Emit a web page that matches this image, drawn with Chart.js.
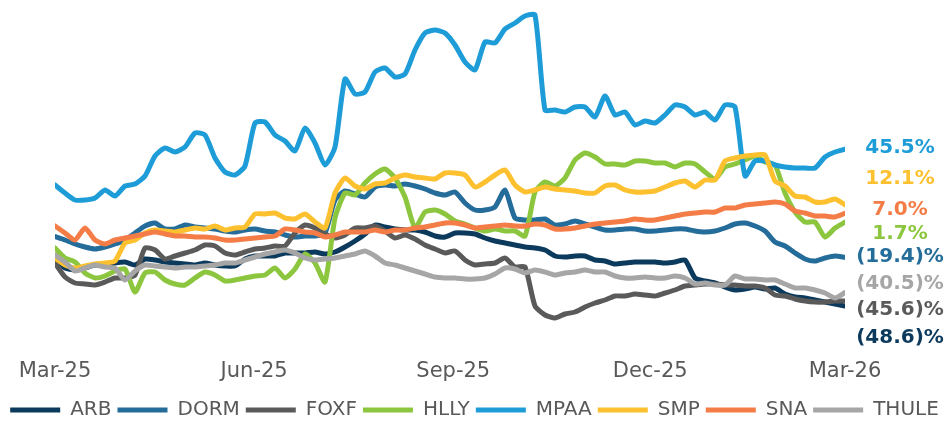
<!DOCTYPE html>
<html>
<head>
<meta charset="utf-8">
<script src="https://cdn.jsdelivr.net/npm/chart.js@4.4.0/dist/chart.umd.min.js"></script>
<style>
  body { margin: 0; background: #fff; }
  #wrap { width: 949px; height: 422px; position: relative; }
</style>
</head>
<body>
<div id="wrap"><canvas id="perfChart"></canvas></div>
<script>
// Relative performance (%), sampled roughly every 4.6 days from Mar-25 to Mar-26
const tickDays = [0, 92, 184, 275, 365];
const tickLabels = ['Mar-25', 'Jun-25', 'Sep-25', 'Dec-25', 'Mar-26'];
const seriesNames = ['ARB', 'DORM', 'FOXF', 'HLLY', 'MPAA', 'SMP', 'SNA', 'THULE'];

const arb = [
  -21, -25.8, -27, -25.8, -24, -24, -22.8, -22.2, -24, -20.4,
  -21, -22.2, -22.8, -23.4, -24, -22.8, -24, -24.6, -24.6, -20.4,
  -18.6, -18.6, -18.6, -16.8, -16.8, -16.8, -16.2, -17.4, -16.2, -13.2,
  -9.6, -5.4, 0, -1.2, -2.4, -3, -3, -4.2, -6.6, -7.2,
  -4.8, -4.8, -5.4, -7.8, -9.6, -10.8, -12, -13.2, -13.8, -15,
  -18.6, -19.2, -18.6, -18.6, -21, -21.6, -23.4, -22.8, -22.2, -22.2,
  -22.2, -22.8, -22.2, -21, -31.8, -33.6, -34.8, -37.2, -39, -38.4,
  -37.2, -38.4, -37.8, -41.4, -43.2, -43.8, -45, -46.2, -47.4, -48.6
];
const dorm = [
  -7, -9, -11.4, -13.2, -14.4, -13.2, -11.4, -9, -4.8, -0.6,
  1.2, -2.4, -2.4, 0, -1.2, -1.8, -2.4, -3.6, -4.2, -3,
  -2.4, -3.6, -4.2, -6, -7.2, -6.6, -6.6, -4.8, 15, 20.4,
  18.6, 16.8, 22.8, 24, 23.4, 24.6, 23.4, 21.6, 19.2, 18,
  19.8, 13.2, 9, 9, 10.8, 21, 4.2, 3, 3, 3.6,
  0, 0.6, 2.4, 0.6, -1.2, -3, -3, -2.4, -2.4, -3.6,
  -3.6, -3, -2.4, -2.4, -3.6, -4.2, -3.6, -1.8, 0.6, 1.2,
  -0.6, -3.6, -10.2, -12.6, -16.8, -20.4, -21.6, -19.8, -18.6, -19.4
];
const foxf = [
  -22.8, -31.2, -34.8, -35.4, -36, -34.2, -31.8, -31.8, -30, -13.8,
  -15, -20.4, -18.6, -16.8, -15, -12, -12.6, -16.8, -18, -16.2,
  -14.4, -13.8, -12.6, -12.6, -4.8, 0, -1.8, -5.4, -7.8, -6,
  -1.8, -1.8, -0.6, -3.6, -7.8, -6, -8.4, -12, -14.4, -16.8,
  -15.6, -21, -24, -23.4, -22.8, -19.8, -25.2, -25.2, -48.6, -54,
  -55.8, -53.4, -52.2, -49.2, -46.8, -45, -42.6, -42.6, -41.4, -42,
  -42.6, -40.8, -39, -36.6, -36, -35.4, -35.4, -36, -36, -36.6,
  -36.6, -37.8, -42, -42.6, -44.4, -45.6, -46.2, -46.2, -45.6, -45.6
];
const hlly = [
  -13.8, -19.8, -22.2, -28.8, -31.8, -30.6, -27.6, -26.4, -40.2, -28.8,
  -28.2, -33, -35.4, -36, -31.8, -28.2, -30, -33.6, -33, -31.8,
  -30.6, -30, -25.8, -31.8, -26.4, -17.4, -22.8, -34.2, 4.2, 19.2,
  18, 25.2, 30.6, 33.6, 28.2, 16.8, -1.8, 7.8, 9, 6.6,
  2.4, 0.6, -1.8, -3.6, -2.4, -3.6, -3.6, -6.6, 19.8, 25.8,
  23.4, 28.2, 39, 43.2, 40.8, 36.6, 36.6, 36, 38.4, 38.4,
  37.2, 37.2, 34.8, 37.2, 36.6, 31.8, 27.6, 34.8, 36.6, 39,
  41.4, 37.8, 36, 19.2, 7.8, 1.8, 1.8, -7.2, -1.8, 1.7
];
const mpaa = [
  24, 19.2, 15, 15, 16.2, 21, 17.4, 23.4, 24.6, 29.4,
  41.4, 46.2, 43.8, 46.8, 55.2, 54, 40.2, 31.8, 30, 35.4,
  61.2, 61.8, 54, 50.4, 44.4, 58.2, 49.2, 36, 46.8, 87.6,
  78.6, 79.8, 91.8, 94.2, 88.8, 90.6, 105, 115.2, 117, 115.2,
  108, 97.8, 93, 109.8, 109.2, 117.6, 121.2, 125.4, 126, 69,
  69, 67.8, 70.8, 70.8, 64.8, 77.4, 66, 67.8, 60, 62.4,
  61.2, 66, 72, 70.8, 66, 67.8, 63, 72, 70.8, 29.4,
  38.4, 38.4, 36, 34.8, 34.2, 34.2, 34.2, 40.8, 43.8, 45.5
];
const smp = [
  -19.8, -24, -25.8, -24.6, -23.4, -22.8, -21.6, -10.8, -9, -4.8,
  -3, -3.6, -4.2, -3, -1.8, -2.4, -0.6, -3, -1.8, -1.2,
  6.6, 6.6, 7.2, 4.2, 3.6, 6.6, 1.8, -1.8, 19.2, 28.2,
  23.4, 21.6, 24.6, 25.2, 28.2, 30, 28.8, 28.2, 27.6, 31.2,
  31.2, 30, 22.8, 25.8, 30, 33, 24, 19.8, 21, 22.8,
  21.6, 21, 20.4, 19.2, 19.2, 23.4, 24, 21, 19.8, 19.8,
  20.4, 22.8, 25.2, 26.4, 22.8, 27, 27, 38.4, 40.2, 41.4,
  42, 42, 26.4, 23.4, 17.4, 16.8, 13.8, 13.8, 15.6, 12.1
];
const sna = [
  -0.6, -4.8, -9, -1.8, -9, -11.4, -9, -7.8, -6.6, -5.4,
  -4.2, -5.4, -6.6, -6.6, -7.2, -7.2, -7.8, -9, -9, -8.4,
  -7.8, -7.2, -6.6, -2.4, -3, -4.2, -4.8, -7.2, -6, -4.2,
  -4.2, -4.2, -3, -4.2, -3, -3, -1.8, -1.2, 0, 1.2,
  1.2, 0, -1.8, -1.2, -0.6, 0, -0.6, -0.6, 0.6, 0,
  -2.4, -2.4, -1.8, -0.6, 0.6, 1.2, 1.8, 2.4, 3.6, 3,
  3, 4.2, 5.4, 6.6, 7.2, 7.8, 7.8, 10.2, 10.2, 12,
  12.6, 13.2, 13.8, 12.6, 8.4, 7.2, 5.4, 5.4, 4.8, 7.0
];
const thule = [
  -18, -22.2, -27.6, -25.8, -24, -25.2, -25.8, -33, -27.6, -24,
  -24.6, -25.2, -25.8, -25.2, -25.2, -24.6, -24, -22.8, -22.8, -21,
  -19.2, -17.4, -16.2, -15, -16.8, -19.8, -21, -20.4, -19.8, -18.6,
  -17.4, -15.6, -18.6, -22.8, -24, -25.8, -27.6, -29.4, -31.2, -31.8,
  -31.8, -32.4, -32.4, -31.8, -29.4, -25.8, -26.4, -28.8, -27, -28.2,
  -30, -28.8, -28.2, -27, -28.2, -28.2, -30.6, -31.8, -31.8, -31.2,
  -31.8, -31.8, -30.6, -31.8, -35.4, -34.8, -36, -36, -30.6, -32.4,
  -32.4, -33, -33, -35.4, -37.8, -37.8, -39, -40.8, -43.8, -40.5
];

const seriesValues = [arb, dorm, foxf, hlly, mpaa, smp, sna, thule];
const seriesColors = ['#0c3a5d', '#246c9a', '#5a5a5a', '#8cc63f', '#1e9cd8', '#fdc02e', '#f47c47', '#a6a6a6'];
const stepDays = 365 / (arb.length - 1);

// where the end-of-line value labels sit (px)
const endLabelY = { MPAA: 148, SMP: 179, SNA: 210, HLLY: 234, DORM: 257, THULE: 284, FOXF: 310, ARB: 338 };

function fmtPct(v) {
  return v < 0 ? '(' + Math.abs(v).toFixed(1) + ')%' : v.toFixed(1) + '%';
}

const endLabels = {
  id: 'endLabels',
  afterDatasetsDraw(chart, args, opts) {
    const ctx = chart.ctx;
    ctx.save();
    ctx.font = opts.font;
    ctx.textAlign = 'center';
    ctx.textBaseline = 'middle';
    chart.data.datasets.forEach(ds => {
      const last = ds.data[ds.data.length - 1].y;
      ctx.fillStyle = ds.borderColor;
      ctx.fillText(fmtPct(last), opts.x, opts.y[ds.label]);
    });
    ctx.restore();
  }
};

const datasets = seriesNames.map((name, i) => ({
  label: name,
  data: seriesValues[i].map((v, k) => ({ x: k * stepDays, y: v })),
  borderColor: seriesColors[i],
  backgroundColor: seriesColors[i],
  borderWidth: 5,
  borderCapStyle: 'round',
  borderJoinStyle: 'round',
  pointRadius: 0,
  tension: 0.2,
  order: seriesNames.length - i // later series drawn on top
}));

new Chart(document.getElementById('perfChart').getContext('2d'), {
  type: 'line',
  data: { datasets: datasets },
  options: {
    responsive: true,
    maintainAspectRatio: false,
    animation: false,
    layout: { padding: { top: 0, left: 0, right: 0, bottom: -8 } },
    scales: {
      x: {
        type: 'linear',
        min: 0,
        max: 365,
        grid: { display: false, drawTicks: false },
        border: { display: false },
        afterBuildTicks: (scale) => { scale.ticks = tickDays.map(d => ({ value: d })); },
        afterFit: (s) => { s.height = 44; },
        ticks: {
          autoSkip: false,
          maxRotation: 0,
          padding: 9,
          color: '#595959',
          font: { family: 'DejaVu Sans', size: 21 },
          callback: (v) => tickLabels[tickDays.indexOf(v)]
        }
      },
      y: {
        min: -75,
        max: 135,
        grid: { display: false },
        border: { display: false },
        ticks: { display: false },
        afterFit: (s) => { s.width = 55; }
      },
      yRight: {
        position: 'right',
        grid: { display: false },
        border: { display: false },
        ticks: { display: false },
        afterFit: (s) => { s.width = 104; }
      }
    },
    plugins: {
      legend: {
        position: 'bottom',
        labels: {
          usePointStyle: true,
          pointStyle: 'line',
          pointStyleWidth: 50,
          padding: 6,
          color: '#595959',
          font: { family: 'DejaVu Sans', size: 20 },
          sort: (a, b) => a.datasetIndex - b.datasetIndex
        }
      },
      tooltip: { enabled: false },
      endLabels: {
        x: 900,
        y: endLabelY,
        font: 'bold 20px "DejaVu Sans"'
      }
    }
  },
  plugins: [endLabels]
});
</script>
</body>
</html>
